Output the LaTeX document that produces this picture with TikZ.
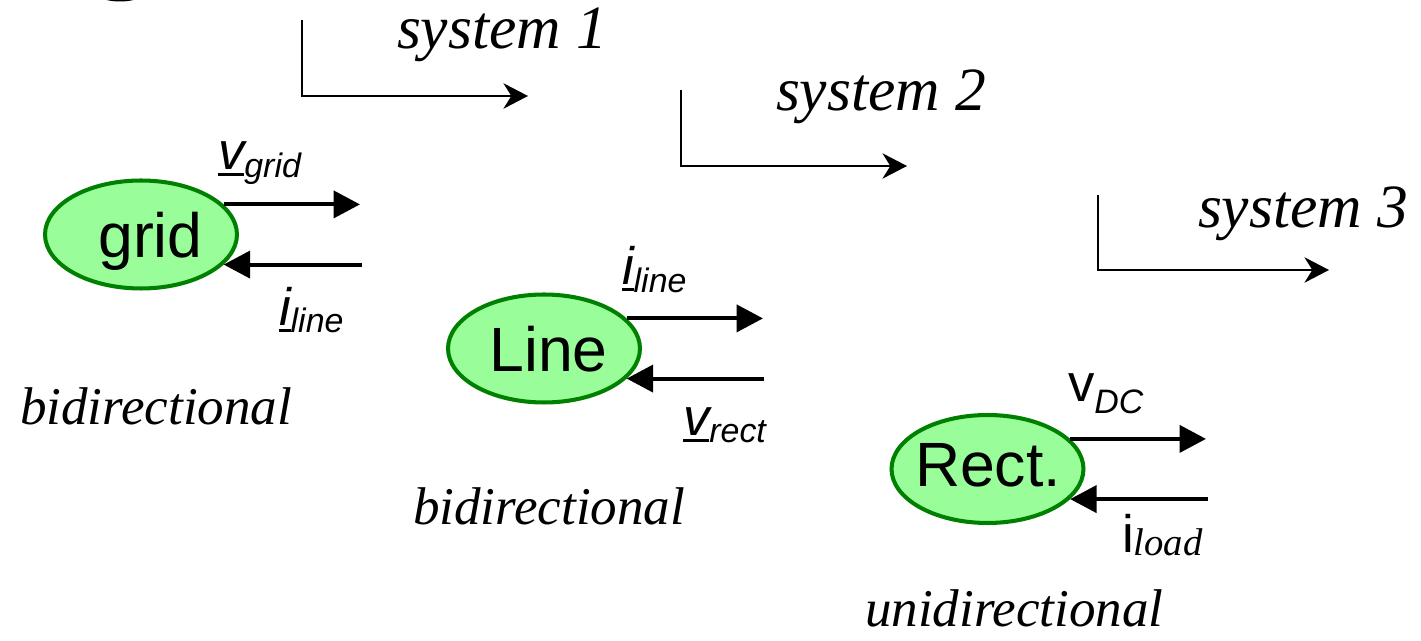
\documentclass[tikz,border=0pt]{standalone}
\usepackage{fontspec}
\setmainfont{Liberation Serif}
\setsansfont{Liberation Sans}
\usetikzlibrary{arrows.meta,shapes.geometric}

\definecolor{blobfill}{RGB}{153,253,153}
\definecolor{blobline}{RGB}{0,128,0}

\newcommand\sysfont{\fontsize{35pt}{40pt}\selectfont\itshape}
\newcommand\dirfont{\fontsize{30.2pt}{34pt}\selectfont\itshape}
\newcommand\blobfont{\sffamily\fontsize{35.6pt}{40pt}\selectfont}
\newcommand\mainsym{\sffamily\fontsize{30pt}{34pt}\selectfont}
\newcommand\subsym{\sffamily\itshape\fontsize{19.3pt}{22pt}\selectfont}
\newcommand\subserif{\rmfamily\itshape\fontsize{22pt}{25pt}\selectfont}
% symbol with a bar drawn under it
\newcommand\ulsym[1]{\setbox0=\hbox{#1}\rlap{\rule[-3.2pt]{\wd0}{1.7pt}}\box0}
\newcommand\lowered[2]{\raisebox{-#1}{#2}}

\begin{document}
\begin{tikzpicture}[x=0.02cm,y=-0.02cm,
  blob/.style={ellipse, draw=blobline, fill=blobfill, line width=2.3pt,
    minimum width=3.84cm, minimum height=2.16cm, inner sep=0pt},
  txt/.style={inner sep=0pt, outer sep=0pt},
  flow/.style={line width=2.3pt, -{Triangle[length=15pt,width=15.3pt]}},
  sysarrow/.style={line width=1pt, -{Stealth[length=14pt,width=14.5pt,inset=4.5pt]}}]

\useasboundingbox (0,0) rectangle (1421,641);

% fragment cut by the upper edge
\begin{scope}
  \clip (0,0) rectangle (1421,641);
  \fill[black] (120,-13) ellipse [x radius=0.62cm, y radius=0.29cm];
\end{scope}

% system boundaries
\coordinate (s1top) at (302,20);
\coordinate (s1tip) at (528,96);
\draw[sysarrow] (s1top) |- (s1tip);
\node[txt, anchor=base west] (sys1) at (397,49) {\sysfont system 1};

\coordinate (s2top) at (681,90);
\coordinate (s2tip) at (907,166);
\draw[sysarrow] (s2top) |- (s2tip);
\node[txt, anchor=base west] (sys2) at (776,111) {\sysfont system 2};

\coordinate (s3top) at (1098,195);
\coordinate (s3tip) at (1329,270);
\draw[sysarrow] (s3top) |- (s3tip);
\node[txt, anchor=base west] (sys3) at (1198,228) {\sysfont system 3};

% blocks
\node[blob] (grid) at (141,234.5) {};
\node[txt, anchor=base] (gridtxt) at (150.5,258) {\blobfont grid};
\node[blob] (line) at (544,348.5) {};
\node[txt, anchor=base] (linetxt) at (548.5,372) {\blobfont Line};
\node[blob] (rect) at (987.5,469) {};
\node[txt, anchor=base] (recttxt) at (988,487) {\blobfont Rect.};

% signal arrows
\coordinate (gout) at (360,204);
\coordinate (gin) at (362,265);
\draw[flow] (grid.20) -- (grid.20 -| gout);
\draw[flow] (grid.-20 -| gin) -- (grid.-20);

\coordinate (lout) at (763,318);
\coordinate (lin) at (764,378);
\draw[flow] (line.20) -- (line.20 -| lout);
\draw[flow] (line.-20 -| lin) -- (line.-20);

\coordinate (rout) at (1206,439);
\coordinate (rin) at (1208,499);
\draw[flow] (rect.20) -- (rect.20 -| rout);
\draw[flow] (rect.-20 -| rin) -- (rect.-20);

% signal names
\node[txt, anchor=base west] (vgrid) at (218,170)
  {\mainsym\itshape\ulsym{v}\lowered{4.5pt}{\subsym grid}};
\node[txt, anchor=base west] (iline1) at (279,326)
  {\mainsym\itshape\ulsym{i}\lowered{3.5pt}{\subsym line}};
\node[txt, anchor=base west] (iline2) at (622,285)
  {\mainsym\itshape\ulsym{i}\lowered{4pt}{\subsym line}};
\node[txt, anchor=base west] (vrect) at (683,436)
  {\mainsym\itshape\ulsym{v}\lowered{3.5pt}{\subsym rect}};
\node[txt, anchor=base west] (vdc) at (1068,402)
  {\mainsym v\lowered{6.8pt}{\subsym DC}};
\node[txt, anchor=base west] (iload) at (1122,553)
  {\mainsym i\lowered{1.5pt}{\subserif load}};

% direction notes
\node[txt, anchor=base west] (dir1) at (20,425) {\dirfont bidirectional};
\node[txt, anchor=base west] (dir2) at (413,525) {\dirfont bidirectional};
\node[txt, anchor=base west] (dir3) at (865,627) {\dirfont unidirectional};

\end{tikzpicture}
\end{document}
